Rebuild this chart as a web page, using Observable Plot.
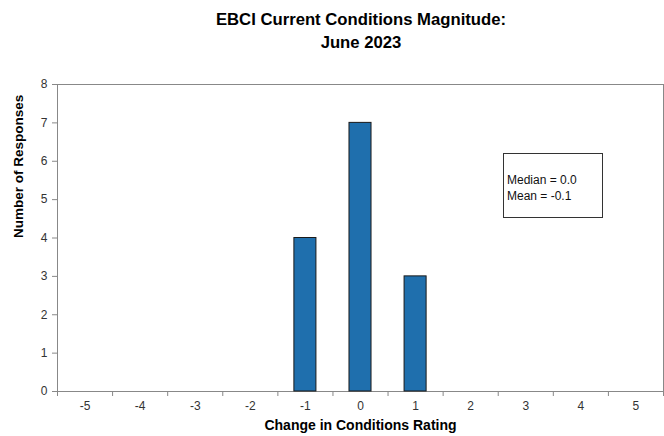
<!DOCTYPE html>
<html>
<head>
<meta charset="utf-8">
<script src="https://cdn.jsdelivr.net/npm/d3@7"></script>
<script src="https://cdn.jsdelivr.net/npm/@observablehq/plot@0.6"></script>
<style>
  html, body { margin: 0; padding: 0; background: #fff; }
  body { width: 664px; height: 436px; position: relative; overflow: hidden; font-family: "Liberation Sans", Arial, sans-serif; }
  #title { height: 54px; box-sizing: border-box; padding-top: 8px; padding-left: 58px; text-align: center; font-weight: bold; font-size: 16.7px; line-height: 23px; color: #000; }
  #stats { position: absolute; left: 503px; top: 153px; width: 100px; height: 65px; box-sizing: border-box; border: 1px solid #333; background: #fff; font-size: 12px; line-height: 16px; padding: 18px 0 0 3px; color: #111; }
</style>
</head>
<body>
<div id="title">EBCI Current Conditions Magnitude:<br>June 2023</div>
<div id="chart"></div>
<div id="stats">Median = 0.0<br>Mean = -0.1</div>
<script>
const ratings = [-5, -4, -3, -2, -1, 0, 1, 2, 3, 4, 5];
const responses = [0, 0, 0, 0, 4, 7, 3, 0, 0, 0, 0];
const yTicks = [0, 1, 2, 3, 4, 5, 6, 7, 8];
const xLabel = "Change in Conditions Rating";
const yLabel = "Number of Responses";

const data = ratings.map((r, i) => ({rating: r, n: responses[i]}));
const bars = data.filter(d => d.n > 0);
const boundaries = ratings.map(r => r - 0.5).concat([ratings[ratings.length - 1] + 0.5]);

const plot = Plot.plot({
  width: 664,
  height: 382,
  marginTop: 30,
  marginLeft: 57,
  marginRight: 1,
  marginBottom: 45,
  style: {fontFamily: "'Liberation Sans', Arial, sans-serif", fontSize: "12px", color: "#333", background: "#fff"},
  x: {type: "linear", domain: [-5.5, 5.5]},
  y: {domain: [0, 8]},
  marks: [
    Plot.frame({stroke: "#888"}),
    Plot.rectY(bars, {x1: d => d.rating - 0.2, x2: d => d.rating + 0.2, y: "n", fill: "#1f6fad", stroke: "#1a1a1a", strokeWidth: 1}),
    Plot.axisY({ticks: yTicks, tickSize: 5, tickPadding: 5, label: null, stroke: "#888", fill: "#333", fontSize: 12}),
    Plot.axisX({ticks: boundaries, tickFormat: () => "", tickSize: 5, label: null, stroke: "#888"}),
    Plot.axisX({ticks: ratings, tickSize: 0, tickPadding: 10, tickFormat: d => String(d).replace("−", "-"), label: null, fill: "#333", fontSize: 12}),
    Plot.text([yLabel], {frameAnchor: "left", rotate: -90, dx: -39, fontWeight: "bold", fontSize: 13.5, fill: "#000"}),
    Plot.text([xLabel], {frameAnchor: "bottom", dy: 38, fontWeight: "bold", fontSize: 14, fill: "#000"})
  ]
});
document.getElementById("chart").appendChild(plot);
</script>
</body>
</html>
